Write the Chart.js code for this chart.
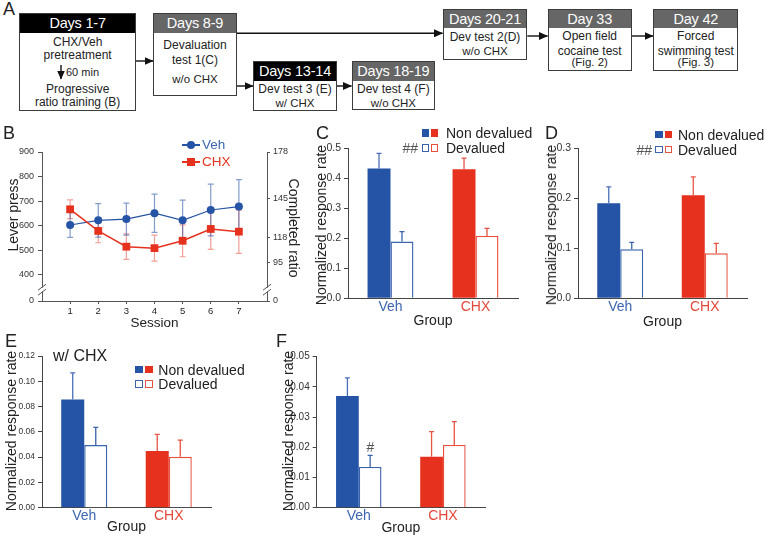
<!DOCTYPE html>
<html><head><meta charset="utf-8">
<script src="https://cdn.jsdelivr.net/npm/chart.js@4.4.1/dist/chart.umd.min.js"></script>
<style>
html,body{margin:0;padding:0;background:#fff;}
#root{position:relative;width:765px;height:538px;overflow:hidden;font-family:"Liberation Sans",Arial,Helvetica,sans-serif;color:#222;}
canvas{position:absolute;}
.t{position:absolute;line-height:1;white-space:nowrap;}
.box{position:absolute;border:1px solid #3c3c3c;box-sizing:border-box;background:transparent;}
.hd{position:absolute;left:0;top:0;right:0;}
.sq{position:absolute;box-sizing:border-box;}
</style></head><body><div id="root">
<svg width="765" height="120" style="position:absolute;left:0;top:0">
 <defs><marker id="ah" markerWidth="9" markerHeight="8" refX="8.5" refY="4" orient="auto" markerUnits="userSpaceOnUse"><path d="M0,0 L9,4 L0,8 z" fill="#111"/></marker></defs>
 <g stroke="#111" stroke-width="1.4" fill="none">
  <line x1="136" y1="61" x2="153" y2="61" marker-end="url(#ah)"/>
  <line x1="236.7" y1="33.3" x2="442.5" y2="33.3" marker-end="url(#ah)"/>
  <line x1="236.7" y1="86" x2="253" y2="86" marker-end="url(#ah)"/>
  <line x1="336.7" y1="86" x2="351.5" y2="86" marker-end="url(#ah)"/>
  <line x1="527.3" y1="36" x2="547.5" y2="36" marker-end="url(#ah)"/>
  <line x1="631.7" y1="36" x2="653" y2="36" marker-end="url(#ah)"/>
  <line x1="61" y1="65" x2="61" y2="79" marker-end="url(#ah)"/>
 </g>
</svg>
</div>
<script>
// ---------- data ----------
// Panel B
const sessions = [1, 2, 3, 4, 5, 6, 7];
const vehLever = [603, 622, 627, 651, 622, 664, 678];
const vehSem   = [50, 68, 65, 78, 82, 105, 110];
const chxLever = [667, 579, 515, 509, 539, 587, 576];
const chxSem   = [38, 48, 52, 53, 65, 83, 88];
const leverTicks = [0, 400, 500, 600, 700, 800, 900];
const leverFloor = 294;          // value shown at the "0" position below the axis break
const leverBreakAt = 340;
const ratioTickLabels = [0, 95, 118, 145, 178];
const ratioTickAt     = [0, 449, 554, 709, 900];
// Panels C-F
const groups = ['Veh', 'CHX'];
const cNonDev = [0.433, 0.430], cNonDevSem = [0.050, 0.037];
const cDev    = [0.189, 0.208], cDevSem    = [0.033, 0.025];
const cTicks = ['0.0', '0.1', '0.2', '0.3', '0.4', '0.5'];
const dNonDev = [0.190, 0.206], dNonDevSem = [0.033, 0.037];
const dDev    = [0.098, 0.090], dDevSem    = [0.014, 0.020];
const dTicks = ['0.0', '0.1', '0.2', '0.3'];
const eNonDev = [0.0856, 0.0448], eNonDevSem = [0.0210, 0.0132];
const eDev    = [0.0495, 0.0403], eDevSem    = [0.0140, 0.0132];
const eTicks = ['0.00', '0.02', '0.04', '0.06', '0.08', '0.10', '0.12'];
const fNonDev = [0.0370, 0.0169], fNonDevSem = [0.0060, 0.0083];
const fDev    = [0.0135, 0.0208], fDevSem    = [0.0038, 0.0077];
const fTicks = ['0.00', '0.01', '0.02', '0.03', '0.04', '0.05'];

// ---------- styles ----------
const BLUE = '#2553a5', RED = '#e5311d';
const BLUE_O = '#3a63ad', RED_O = '#e8513f';
const BLUE_E = '#4a6fb8', RED_E = '#e85545';
const BLUE_T = '#3c67b1', RED_T = '#e2483a';
const AX = '#444';
const FONT = '"Liberation Sans", Arial, Helvetica, sans-serif';
Chart.defaults.font.family = FONT;
Chart.defaults.color = '#222';

const root = document.getElementById('root');
function T(x, y, s, size, opt = {}) {
  const d = document.createElement('div');
  d.className = 't'; d.textContent = s;
  d.style.fontSize = size + 'px'; d.style.left = x + 'px'; d.style.top = y + 'px';
  d.style.color = opt.color || '#222';
  if (opt.ls) d.style.letterSpacing = opt.ls + 'px';
  let tr = opt.anchor === 'left' ? 'translate(0,-50%)' : 'translate(-50%,-50%)';
  if (opt.rot) tr += ' rotate(' + opt.rot + 'deg)';
  d.style.transform = tr;
  root.appendChild(d);
  return d;
}
function box(x1, y1, x2, y2, hb, hc, head, lines) {
  const b = document.createElement('div');
  b.className = 'box';
  b.style.left = x1 + 'px'; b.style.top = y1 + 'px';
  b.style.width = (x2 - x1) + 'px'; b.style.height = (y2 - y1) + 'px';
  const h = document.createElement('div'); h.className = 'hd';
  h.style.height = (hb - y1) + 'px'; h.style.background = hc;
  b.appendChild(h); root.appendChild(b);
  const cx = (x1 + x2) / 2;
  T(cx, (y1 + hb) / 2 + 0.5, head, 14.5, {color: '#fff', ls: -0.2});
  lines.forEach(l => T(l[2] !== undefined ? l[2] : cx, l[0], l[1], l[3] || 12, {anchor: l[2] !== undefined ? 'left' : 'center'}));
}

// ---------- panel A ----------
box(19.3, 13.3, 136, 111, 32.3, '#000', 'Days 1-7',
  [[42.3, 'CHX/Veh'], [55, 'pretreatment'], [71.7, '60 min', 66, 11], [89.3, 'Progressive'], [101.7, 'ratio training (B)']]);
box(153.3, 13.3, 236.7, 96, 32.3, '#666', 'Days 8-9',
  [[45, 'Devaluation'], [60, 'test 1(C)'], [80, 'w/o CHX', undefined, 11.5]]);
box(253.3, 61, 336.7, 111, 80, '#000', 'Days 13-14',
  [[89.3, 'Dev test 3 (E)'], [104, 'w/ CHX', undefined, 11.5]]);
box(351.7, 61, 435, 110, 80, '#666', 'Days 18-19',
  [[89.3, 'Dev test 4 (F)'], [104, 'w/o CHX', undefined, 11.5]]);
box(442.7, 9.3, 527.3, 60.3, 27.3, '#666', 'Days 20-21',
  [[36.7, 'Dev test 2(D)'], [51.7, 'w/o CHX', undefined, 11.5]]);
box(547.7, 9.3, 631.7, 71, 27.3, '#666', 'Day 33',
  [[36, 'Open field'], [50.7, 'cocaine test'], [63.3, '(Fig. 2)', undefined, 11.5]]);
box(653.3, 9.3, 738.3, 71, 27.3, '#666', 'Day 42',
  [[36, 'Forced'], [50.7, 'swimming test'], [63.3, '(Fig. 3)', undefined, 11.5]]);

// ---------- helpers ----------
function mkCanvas(b) {
  const c = document.createElement('canvas');
  c.width = b.w; c.height = b.h;
  c.style.left = b.x + 'px'; c.style.top = b.y + 'px';
  c.style.width = b.w + 'px'; c.style.height = b.h + 'px';
  root.appendChild(c);
  return c;
}
function drawErrors(chart) {
  const ctx = chart.ctx;
  chart.data.datasets.forEach((ds, di) => {
    if (!ds.err) return;
    const meta = chart.getDatasetMeta(di);
    const ys = chart.scales[meta.yAxisID];
    meta.data.forEach((el, i) => {
      const raw = ds.data[i];
      const v = typeof raw === 'object' ? raw.y : raw;
      const e = ds.err[i];
      const yTop = ys.getPixelForValue(v + e);
      const yBot = ds.errBoth ? ys.getPixelForValue(v - e) : ys.getPixelForValue(v);
      const cap = ds.errCap || 2.5;
      ctx.save();
      ctx.strokeStyle = Array.isArray(ds.errColor) ? ds.errColor[i] : ds.errColor;
      ctx.lineWidth = ds.errWidth || 1.3;
      ctx.beginPath();
      ctx.moveTo(el.x, yBot); ctx.lineTo(el.x, yTop);
      ctx.moveTo(el.x - cap, yTop); ctx.lineTo(el.x + cap, yTop);
      if (ds.errBoth) { ctx.moveTo(el.x - cap, yBot); ctx.lineTo(el.x + cap, yBot); }
      ctx.stroke();
      ctx.restore();
    });
  });
}
const errAfter = {id: 'errAfter', afterDatasetsDraw: drawErrors};
const errBefore = {id: 'errBefore', beforeDatasetsDraw: drawErrors};
const common = {responsive: false, animation: false, devicePixelRatio: 1, events: [],
  plugins: {legend: {display: false}, tooltip: {enabled: false}}};

function barPanel(b, area, nd, ndErr, dv, dvErr, ticks, tickSize, catPct, titlePad) {
  const cv = mkCanvas(b);
  return new Chart(cv, {
    type: 'bar',
    data: {labels: groups, datasets: [
      {label: 'Non devalued', data: nd, backgroundColor: [BLUE, RED], borderWidth: 0,
       err: ndErr, errColor: [BLUE_E, RED_E]},
      {label: 'Devalued', data: dv, backgroundColor: '#fff', borderColor: [BLUE_O, RED_O],
       borderWidth: 1.4, borderSkipped: 'bottom', err: dvErr, errColor: [BLUE_O, RED_O]}
    ]},
    options: Object.assign({}, common, {
      layout: {padding: {top: area.t - b.y, right: b.x + b.w - area.r, left: 0, bottom: 0}},
      datasets: {bar: {categoryPercentage: catPct, barPercentage: 1}},
      scales: {
        x: {grid: {display: false, drawTicks: false}, border: {display: true, color: AX, width: 1},
            ticks: {padding: 0, font: {size: 14}, color: c => c.index === 0 ? BLUE_T : RED_T},
            title: {display: true, text: 'Group', font: {size: 14}, color: '#222', padding: {top: 0, bottom: titlePad}},
            afterFit: s => { s.height = b.y + b.h - area.b; }},
        y: {min: +ticks[0], max: +ticks[ticks.length - 1],
            afterBuildTicks: s => { s.ticks = ticks.map(t => ({value: +t})); },
            ticks: {callback: (v, i) => ticks[i], font: {size: tickSize}, color: '#333', padding: 3, autoSkip: false},
            grid: {drawOnChartArea: false, drawTicks: true, tickLength: 4, color: AX},
            border: {color: AX, width: 1},
            afterFit: s => { s.width = area.l - b.x; }}
      }
    }),
    plugins: [errAfter]
  });
}

// ---------- panel B ----------
(function () {
  const b = {x: 0, y: 140, w: 310, h: 195};
  const area = {l: 42, t: 152, r: 267, b: 301};
  const cv = mkCanvas(b);
  const breaks = {id: 'breaks', afterDraw(chart) {
    const ctx = chart.ctx;
    [chart.scales.y, chart.scales.y2].forEach((s, k) => {
      const x = k === 0 ? chart.chartArea.left : chart.chartArea.right;
      const y = s.getPixelForValue(leverBreakAt);
      ctx.save();
      ctx.fillStyle = '#fff';
      ctx.fillRect(x - 2, y - 2, 4, 4);
      ctx.strokeStyle = '#555'; ctx.lineWidth = 1;
      ctx.beginPath();
      ctx.moveTo(x - 4, y + 0.5); ctx.lineTo(x + 4, y - 5.5);
      ctx.moveTo(x - 4, y + 5.5); ctx.lineTo(x + 4, y - 0.5);
      ctx.stroke();
      ctx.restore();
    });
  }};
  new Chart(cv, {
    type: 'line',
    data: {datasets: [
      {label: 'CHX', data: sessions.map((s, i) => ({x: s, y: chxLever[i]})),
       borderColor: RED, backgroundColor: RED, borderWidth: 1.5,
       pointStyle: 'rect', pointRadius: 5.5, pointBackgroundColor: RED, pointBorderWidth: 0,
       err: chxSem, errBoth: true, errColor: 'rgba(232,80,66,0.55)', errCap: 3, errWidth: 1.2},
      {label: 'Veh', data: sessions.map((s, i) => ({x: s, y: vehLever[i]})),
       borderColor: BLUE, backgroundColor: BLUE, borderWidth: 1.2,
       pointStyle: 'circle', pointRadius: 4, pointBackgroundColor: BLUE, pointBorderWidth: 0,
       err: vehSem, errBoth: true, errColor: 'rgba(50,90,170,0.6)', errCap: 3, errWidth: 1.2}
    ]},
    options: Object.assign({}, common, {
      layout: {padding: {top: area.t - b.y, right: 0, left: 0, bottom: 0}},
      scales: {
        x: {type: 'linear', min: 0, max: 8,
            afterBuildTicks: s => { s.ticks = sessions.map(v => ({value: v})); },
            ticks: {font: {size: 9.5}, color: '#222', padding: 2, autoSkip: false},
            grid: {drawOnChartArea: false, drawTicks: true, tickLength: 3, color: '#555'},
            border: {color: '#555'},
            title: {display: true, text: 'Session', font: {size: 13.5}, color: '#222', padding: {top: 0, bottom: 4}},
            afterFit: s => { s.height = b.y + b.h - area.b; }},
        y: {min: leverFloor, max: leverTicks[leverTicks.length - 1],
            afterBuildTicks: s => { s.ticks = leverTicks.map(v => ({value: v === 0 ? leverFloor : v})); },
            ticks: {callback: (v, i) => leverTicks[i], font: {size: 9}, color: '#333', padding: 4, autoSkip: false},
            grid: {drawOnChartArea: false, drawTicks: true, tickLength: 4, color: '#555'},
            border: {color: '#555'},
            afterFit: s => { s.width = area.l - b.x; }},
        y2: {position: 'right', min: leverFloor, max: leverTicks[leverTicks.length - 1],
            afterBuildTicks: s => { s.ticks = ratioTickAt.map(v => ({value: v === 0 ? leverFloor : v})); },
            ticks: {callback: (v, i) => ratioTickLabels[i], font: {size: 9}, color: '#333', padding: 3, autoSkip: false},
            grid: {drawOnChartArea: false, drawTicks: true, tickLength: 3, color: '#555'},
            border: {color: '#555'},
            afterFit: s => { s.width = b.x + b.w - area.r; }}
      }
    }),
    plugins: [errBefore, breaks]
  });
})();

// ---------- panels C-F ----------
barPanel({x: 318, y: 135, w: 210, h: 200}, {l: 348, t: 148.3, r: 518, b: 298.3},
  cNonDev, cNonDevSem, cDev, cDevSem, cTicks, 10.5, 0.54, 5.6);
barPanel({x: 548, y: 135, w: 210, h: 200}, {l: 578, t: 148.3, r: 747, b: 298.3},
  dNonDev, dNonDevSem, dDev, dDevSem, dTicks, 10.5, 0.544, 4.6);
barPanel({x: 0, y: 345, w: 222, h: 193}, {l: 42, t: 356, r: 211, b: 507.7},
  eNonDev, eNonDevSem, eDev, eDevSem, eTicks, 8.5, 0.545, 2.1);
barPanel({x: 284, y: 345, w: 211, h: 193}, {l: 316.7, t: 356.7, r: 485, b: 507.7},
  fNonDev, fNonDevSem, fDev, fDevSem, fTicks, 10, 0.54, 1.6);

// ---------- overlay text ----------
T(3, 8.5, 'A', 18, {anchor: 'left'});
T(3, 132.5, 'B', 18, {anchor: 'left'});
T(316, 133, 'C', 18, {anchor: 'left'});
T(545, 132.5, 'D', 18, {anchor: 'left'});
T(5, 340.5, 'E', 18, {anchor: 'left'});
T(276, 340.5, 'F', 18, {anchor: 'left'});

T(12.5, 215, 'Lever press', 14, {rot: -90});
T(294, 228, 'Completed ratio', 14, {rot: 90});
T(320.5, 225, 'Normalized response rate', 14, {rot: -90});
T(550.5, 225, 'Normalized response rate', 14, {rot: -90});
T(11, 431, 'Normalized response rate', 14, {rot: -90});
T(288, 431, 'Normalized response rate', 14, {rot: -90});
T(53, 356, 'w/ CHX', 16, {anchor: 'left'});

// legends
function sq(cx, cy, size, fill, border, round) {
  const d = document.createElement('div'); d.className = 'sq';
  d.style.left = (cx - size / 2) + 'px'; d.style.top = (cy - size / 2) + 'px';
  d.style.width = size + 'px'; d.style.height = size + 'px';
  d.style.background = fill;
  if (border) d.style.border = '1.3px solid ' + border;
  if (round) d.style.borderRadius = '50%';
  root.appendChild(d);
}
function hline(x1, x2, y, color) {
  const d = document.createElement('div'); d.className = 'sq';
  d.style.left = x1 + 'px'; d.style.top = (y - 0.7) + 'px';
  d.style.width = (x2 - x1) + 'px'; d.style.height = '1.4px'; d.style.background = color;
  root.appendChild(d);
}
hline(182, 200, 145, BLUE); sq(191, 145, 8, BLUE, null, true);
T(202, 145, 'Veh', 13.5, {anchor: 'left', color: BLUE_T});
hline(182, 200, 162, RED); sq(191, 162, 7.5, RED);
T(202, 162, 'CHX', 13.5, {anchor: 'left', color: RED});

function barLegend(bx, rx, tx, y1, y2, hashX) {
  sq(bx, y1, 7.5, BLUE); sq(rx, y1, 7.5, RED);
  T(tx, y1, 'Non devalued', 14, {anchor: 'left'});
  sq(bx, y2, 7.5, '#fff', BLUE_O); sq(rx, y2, 7.5, '#fff', RED_O);
  T(tx, y2, 'Devalued', 14, {anchor: 'left'});
  if (hashX !== undefined) T(hashX, y2, '##', 14, {anchor: 'left', color: '#555'});
}
barLegend(425.5, 434.7, 446, 133, 148, 402.5);
barLegend(658.8, 668.5, 678, 134.7, 149.7, 636.5);
barLegend(138.8, 148.8, 158.3, 369.7, 384);
T(370.5, 446.5, '#', 14, {color: '#555'});
</script>
</body></html>
